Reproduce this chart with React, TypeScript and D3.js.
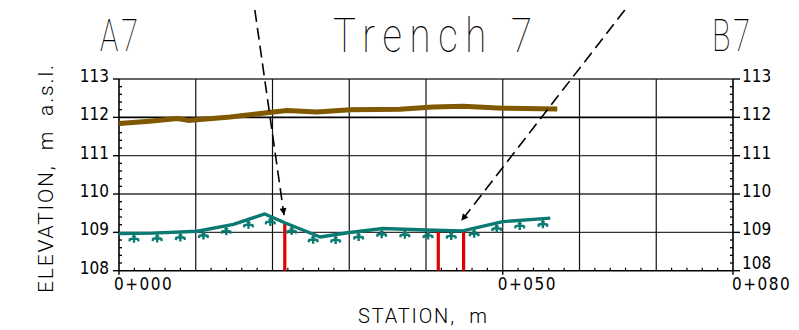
import React from "react";
import * as d3 from "d3";

// Ground surface profile (station m, elevation m a.s.l.)
const groundStation = [0, 4, 7.6, 9, 14.5, 20.1, 21.9, 25.8, 30.1, 36.6, 40.9, 44.8, 50, 57.1];
const groundElev = [111.84, 111.9, 111.97, 111.92, 112.01, 112.14, 112.18, 112.14, 112.2, 112.21, 112.27, 112.29, 112.24, 112.22];

// Trench floor profile
const trenchStation = [0, 4.4, 10.2, 14.9, 19.0, 21.6, 26.2, 29.8, 34.4, 40.0, 44.8, 50.0, 56.2];
const trenchElev = [108.97, 108.98, 109.03, 109.21, 109.48, 109.25, 108.88, 108.99, 109.1, 109.06, 109.04, 109.28, 109.37];

// Sample positions (red verticals) along the station axis
const sampleStations = [21.6, 41.6, 44.9];

// Sight arrows: [start station, start elev] and [tip station, tip elev]
const arrowStart = [[17.7, 114.8], [65.9, 114.8]];
const arrowTip = [[21.5, 109.45], [44.6, 109.3]];

const elevTicks = [108, 109, 110, 111, 112, 113];
const stationTicks = [0, 50, 80];
const stationLabels = ["0+000", "0+050", "0+080"];

const W = 799;
const H = 330;
const TEAL = "#0b7a72";
const BROWN = "#7f5800";
const RED = "#e00000";
const NUM_FONT = "'Liberation Sans Narrow', 'DejaVu Sans Condensed', sans-serif";
const THIN_FONT = "Roboto, 'DejaVu Sans', sans-serif";

// Condensed thin heading text fitted to a given width
function Heading({ x, y, width, size, squeeze, children }: { x: number; y: number; width: number; size: number; squeeze: number; children: string }) {
  return (
    <text
      transform={`translate(${x},${y}) scale(${squeeze},1)`}
      fontFamily={THIN_FONT}
      fontWeight={100}
      fontSize={size}
      textLength={width / squeeze}
      lengthAdjust="spacing"
      fill="#000"
    >
      {children}
    </text>
  );
}

export default function App() {
  const x = d3.scaleLinear().domain([0, 80]).range([119, 733]);
  const y = d3.scaleLinear().domain([108, 113]).range([270.7, 79]);

  const line = d3
    .line<[number, number]>()
    .x((d) => x(d[0]))
    .y((d) => y(d[1]));

  const ground: [number, number][] = groundStation.map((s, i) => [s, groundElev[i]]);
  const trench: [number, number][] = trenchStation.map((s, i) => [s, trenchElev[i]]);

  const trenchAt = (s: number) => {
    for (let i = 0; i < trenchStation.length - 1; i++) {
      const a = trenchStation[i];
      const b = trenchStation[i + 1];
      if (s >= a && s <= b) {
        const t = (s - a) / (b - a);
        return trenchElev[i] + t * (trenchElev[i + 1] - trenchElev[i]);
      }
    }
    return trenchElev[trenchElev.length - 1];
  };

  // Hatch symbols spaced evenly along the trench floor in screen space
  const pts = trench.map((d) => [x(d[0]), y(d[1])]);
  const hatches: { hx: number; hy: number }[] = [];
  {
    const spacing = 23.2;
    let next = 15;
    let acc = 0;
    for (let i = 0; i < pts.length - 1; i++) {
      const [x0, y0] = pts[i];
      const [x1, y1] = pts[i + 1];
      const len = Math.hypot(x1 - x0, y1 - y0);
      while (next <= acc + len) {
        const t = (next - acc) / len;
        hatches.push({ hx: x0 + t * (x1 - x0), hy: y0 + t * (y1 - y0) });
        next += spacing;
      }
      acc += len;
    }
  }

  const minorElev = d3.range(108, 113.001, 0.2).filter((v) => Math.abs(v - Math.round(v)) > 0.01);
  const minorStation = d3.range(0, 80.001, 2).filter((v) => v % 10 !== 0);
  const gridStation = d3.range(10, 80, 10);

  const x0 = x(0);
  const x1 = x(80);
  const yb = y(108);
  const yt = y(113);

  return (
    <svg
      width={W}
      height={H}
      viewBox={`0 0 ${W} ${H}`}
      style={{ position: "absolute", left: 0, top: 0, background: "#fff" }}
    >
      <defs>
        <marker id="arrowhead" viewBox="0 0 10 10" refX="10" refY="5" markerWidth="13" markerHeight="7" markerUnits="userSpaceOnUse" orient="auto">
          <path d="M0,0 L10,5 L0,10 Z" fill="#000" />
        </marker>
      </defs>

      {/* Titles */}
      <Heading x={100} y={51} width={38} size={45} squeeze={0.68}>A7</Heading>
      <Heading x={333} y={52} width={199} size={48} squeeze={0.8}>Trench 7</Heading>
      <Heading x={712} y={51} width={38} size={45} squeeze={0.68}>B7</Heading>

      {/* Horizontal grid */}
      {elevTicks.slice(1).map((v) => (
        <line key={`h${v}`} x1={x0} x2={x1} y1={y(v)} y2={y(v)} stroke={v === 112 ? "#000" : "#333"} strokeWidth={v === 112 ? 1.6 : 1.3} />
      ))}
      {/* Vertical grid */}
      {gridStation.map((s) => (
        <line key={`v${s}`} x1={x(s)} x2={x(s)} y1={yt} y2={yb} stroke="#111" strokeWidth={1.2} />
      ))}

      {/* Frame / axes */}
      <line x1={x0} x2={x1} y1={yb} y2={yb} stroke="#000" strokeWidth={1.6} />
      <line x1={x0} x2={x0} y1={yt} y2={yb} stroke="#000" strokeWidth={1.6} />
      <line x1={x1} x2={x1} y1={yt} y2={yb} stroke="#000" strokeWidth={1.6} />

      {/* Minor ticks */}
      {minorElev.map((v) => (
        <g key={`me${v.toFixed(1)}`}>
          <line x1={x0} x2={x0 + 3} y1={y(v)} y2={y(v)} stroke="#000" strokeWidth={1.3} />
          <line x1={x1} x2={x1 - 3} y1={y(v)} y2={y(v)} stroke="#000" strokeWidth={1.3} />
        </g>
      ))}
      {minorStation.map((s) => (
        <line key={`ms${s}`} x1={x(s)} x2={x(s)} y1={yb} y2={yb - 3} stroke="#000" strokeWidth={1.2} />
      ))}

      {/* Major ticks and elevation labels */}
      {elevTicks.map((v, i) => (
        <g key={`e${v}`}>
          <line x1={x0 - 6} x2={x0} y1={y(v)} y2={y(v)} stroke="#000" strokeWidth={1.4} />
          <line x1={x1} x2={x1 + 7} y1={y(v)} y2={y(v)} stroke="#000" strokeWidth={1.4} />
          <text x={x0 - 10} y={y(v) + 3} textAnchor="end" fontFamily={NUM_FONT} fontSize={17} fill="#000">
            {v}
          </text>
          <text x={x1 + 9} y={y(v) + (i === 0 ? -2 : 3)} fontFamily={NUM_FONT} fontSize={17} fill="#000">
            {v}
          </text>
        </g>
      ))}

      {/* Station labels */}
      {stationTicks.map((s, i) => (
        <g key={`s${s}`}>
          <line x1={x(s)} x2={x(s)} y1={yb} y2={yb + 4} stroke="#000" strokeWidth={1.4} />
          <text x={x(s) - (i === stationTicks.length - 1 ? 1 : 5)} y={290} fontFamily={NUM_FONT} fontSize={17} letterSpacing={1.5} fill="#000">
            {stationLabels[i]}
          </text>
        </g>
      ))}

      {/* Axis titles */}
      <text
        x={358}
        y={323}
        fontFamily={THIN_FONT}
        fontWeight={300}
        fontSize={20}
        textLength={129}
        lengthAdjust="spacing"
        fill="#000"
        style={{ whiteSpace: "pre" }}
      >
        STATION,  m
      </text>
      <text
        transform="translate(53,293) rotate(-90)"
        fontFamily={THIN_FONT}
        fontWeight={300}
        fontSize={21}
        textLength={228}
        lengthAdjust="spacing"
        fill="#000"
        style={{ whiteSpace: "pre" }}
      >
        ELEVATION,  m  a.s.l.
      </text>

      {/* Ground surface */}
      <path d={line(ground) || ""} fill="none" stroke={BROWN} strokeWidth={5} strokeLinejoin="round" />

      {/* Sample verticals */}
      {sampleStations.map((s) => (
        <line key={`r${s}`} x1={x(s)} x2={x(s)} y1={y(trenchAt(s))} y2={yb} stroke={RED} strokeWidth={3.2} />
      ))}

      {/* Trench floor with hatch symbols */}
      <path d={line(trench) || ""} fill="none" stroke={TEAL} strokeWidth={3.4} strokeLinejoin="round" />
      {hatches.map((h, i) => (
        <path
          key={`hs${i}`}
          transform={`translate(${h.hx},${h.hy})`}
          d="M0,2.5 V9.5 M-4,5.5 H4 M-4,5 L-4.5,8 M4,5 L4.5,8 M-1.5,4 L0,2.5 L1.5,4"
          fill="none"
          stroke={TEAL}
          strokeWidth={2.4}
        />
      ))}

      {/* Sight arrows */}
      {arrowStart.map((a, i) => (
        <line
          key={`a${i}`}
          x1={x(a[0])}
          y1={y(a[1])}
          x2={x(arrowTip[i][0])}
          y2={y(arrowTip[i][1])}
          stroke="#000"
          strokeWidth={1.6}
          strokeDasharray="12 6"
          markerEnd="url(#arrowhead)"
        />
      ))}
    </svg>
  );
}
